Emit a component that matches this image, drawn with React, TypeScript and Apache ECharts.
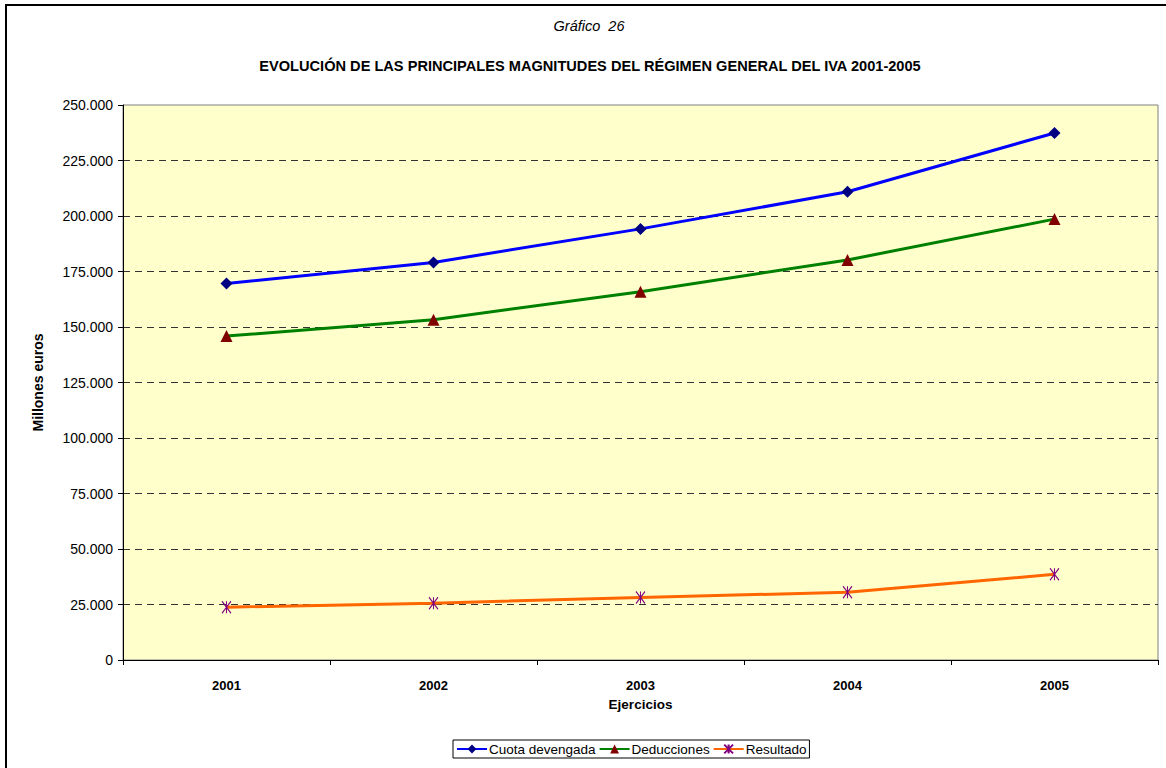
import React, { useEffect, useRef } from "react";
import * as echarts from "echarts";

const years = ["2001", "2002", "2003", "2004", "2005"];
const cuotaDevengada = [169600, 179100, 194200, 210900, 237400];
const deducciones = [145900, 153300, 165900, 180200, 198600];
const resultado = [23800, 25600, 28200, 30500, 38600];
const yTicksMax = 250000;
const yInterval = 25000;

const FONT = "'Liberation Sans', Arial, sans-serif";

const fmt = (v: number) => {
  if (v === 0) return "0";
  const s = String(Math.round(v));
  return s.replace(/\B(?=(\d{3})+(?!\d))/g, ".");
};

const asterisk = "path://M0,0L10,14M10,0L0,14M5,0L5,14";

const gridColors = Array.from({ length: 11 }, (_, i) => (i === 10 ? "rgba(0,0,0,0)" : "#333"));

export default function App() {
  const ref = useRef<HTMLDivElement>(null);
  useEffect(() => {
    if (!ref.current) return;
    const chart = echarts.init(ref.current, null, { renderer: "svg" });
    chart.setOption({
      animation: false,
      backgroundColor: "#ffffff",
      textStyle: { fontFamily: FONT },
      graphic: [
        {
          type: "rect",
          shape: { x: 6, y: 5, width: 1180, height: 790 },
          style: { fill: "none", stroke: "#000", lineWidth: 2 },
          silent: true,
        },
        {
          type: "text",
          x: 589,
          y: 26,
          style: {
            text: "Gráfico  26",
            font: `italic 14.5px ${FONT}`,
            fill: "#000",
            align: "center",
            verticalAlign: "middle",
          },
        },
        {
          type: "text",
          x: 590,
          y: 66,
          style: {
            text: "EVOLUCIÓN DE LAS PRINCIPALES MAGNITUDES DEL RÉGIMEN GENERAL DEL IVA 2001-2005",
            font: `bold 14.6px ${FONT}`,
            fill: "#000",
            align: "center",
            verticalAlign: "middle",
          },
        },
      ],
      grid: {
        left: 123,
        right: 8,
        top: 105,
        bottom: 108,
        show: true,
        backgroundColor: "#FFFFCC",
        borderColor: "#808080",
        borderWidth: 1,
      },
      legend: {
        bottom: 10,
        left: 453,
        backgroundColor: "#fff",
        borderColor: "#000",
        borderWidth: 1,
        borderRadius: 0,
        padding: [2, 3, 2, 3],
        itemGap: 3,
        itemWidth: 30,
        itemHeight: 11,
        textStyle: { fontFamily: FONT, fontSize: 13.5, color: "#000", padding: [0, 0, 0, -3] },
        data: ["Cuota devengada", "Deducciones", "Resultado"],
      },
      xAxis: {
        type: "category",
        data: years,
        boundaryGap: true,
        name: "Ejercicios",
        nameLocation: "middle",
        nameGap: 37,
        nameTextStyle: { fontFamily: FONT, fontSize: 13.5, fontWeight: "bold", color: "#000" },
        axisLine: { show: true, lineStyle: { color: "#000", width: 1 } },
        axisTick: { show: true, inside: false, length: 5, lineStyle: { color: "#000" } },
        axisLabel: { fontFamily: FONT, fontSize: 13, fontWeight: "bold", color: "#000", margin: 19 },
        splitLine: { show: false },
      },
      yAxis: {
        type: "value",
        min: 0,
        max: yTicksMax,
        interval: yInterval,
        name: "Millones euros",
        nameLocation: "middle",
        nameRotate: 90,
        nameGap: 78,
        nameTextStyle: { fontFamily: FONT, fontSize: 14, fontWeight: "bold", color: "#000" },
        axisLine: { show: true, lineStyle: { color: "#000", width: 1 } },
        axisTick: { show: true, inside: false, length: 5, lineStyle: { color: "#000" } },
        axisLabel: {
          fontFamily: FONT,
          fontSize: 14,
          color: "#000",
          margin: 10,
          formatter: (v: number) => fmt(v),
        },
        splitLine: {
          show: true,
          lineStyle: { color: gridColors, type: [7, 5], width: 1 },
        },
      },
      series: [
        {
          name: "Cuota devengada",
          type: "line",
          data: cuotaDevengada,
          symbol: "diamond",
          symbolSize: 12,
          lineStyle: { color: "#0000FF", width: 3 },
          itemStyle: { color: "#000080" },
          z: 3,
        },
        {
          name: "Deducciones",
          type: "line",
          data: deducciones,
          symbol: "triangle",
          symbolSize: 12,
          lineStyle: { color: "#008000", width: 3 },
          itemStyle: { color: "#800000" },
          z: 3,
        },
        {
          name: "Resultado",
          type: "line",
          data: resultado,
          symbol: asterisk,
          symbolSize: [9, 12],
          lineStyle: { color: "#FF6600", width: 3 },
          itemStyle: { color: "#800080", borderColor: "#800080", borderWidth: 1.2 },
          z: 3,
        },
      ],
    });
    return () => chart.dispose();
  }, []);
  return (
    <div
      ref={ref}
      style={{ position: "fixed", left: 0, top: 0, width: 1166, height: 768 }}
    />
  );
}
